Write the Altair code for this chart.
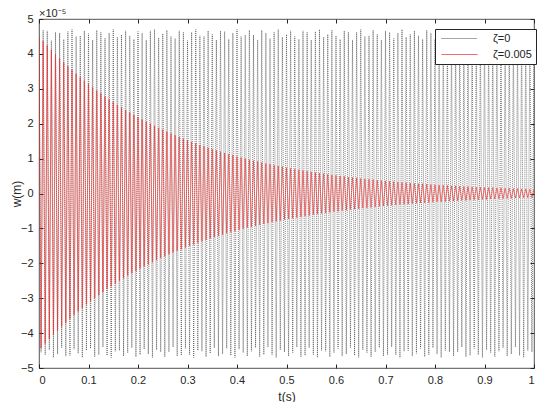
import altair as alt
import pandas as pd

series_names = ["ζ=0", "ζ=0.005"]
cycles_per_second = 120

# positive peaks (t = k/120) and negative peak magnitudes (t = (k+0.5)/120), units of 1e-5 m
undamped_pos = [
    4.45, 4.68, 4.66, 4.38, 4.62, 4.60, 4.42, 4.64, 4.70, 4.50, 4.52, 4.66, 4.58, 4.40, 4.68, 4.62, 4.45, 4.60, 4.70, 4.48,
    4.55, 4.66, 4.52, 4.42, 4.64, 4.60, 4.40, 4.66, 4.70, 4.46, 4.58, 4.68, 4.50, 4.44, 4.66, 4.62, 4.38, 4.62, 4.70, 4.52,
    4.50, 4.66, 4.56, 4.40, 4.66, 4.64, 4.42, 4.60, 4.70, 4.50, 4.54, 4.68, 4.54, 4.40, 4.68, 4.60, 4.44, 4.62, 4.70, 4.48,
    4.56, 4.66, 4.50, 4.42, 4.66, 4.62, 4.40, 4.64, 4.70, 4.48, 4.56, 4.68, 4.52, 4.42, 4.66, 4.62, 4.40, 4.62, 4.70, 4.50,
    4.52, 4.68, 4.56, 4.40, 4.66, 4.62, 4.44, 4.60, 4.70, 4.48, 4.56, 4.66, 4.52, 4.42, 4.68, 4.60, 4.42, 4.64, 4.70, 4.50,
    4.54, 4.66, 4.54, 4.40, 4.68, 4.62, 4.42, 4.62, 4.70, 4.46, 4.58, 4.66, 4.50, 4.44, 4.66, 4.60, 4.40, 4.64, 4.70, 4.52, 4.50,
]
undamped_neg = [
    4.55, 4.62, 4.48, 4.70, 4.60, 4.42, 4.66, 4.64, 4.46, 4.58, 4.70, 4.50, 4.44, 4.68, 4.62, 4.40, 4.64, 4.70, 4.52, 4.50,
    4.66, 4.56, 4.42, 4.68, 4.62, 4.46, 4.60, 4.70, 4.48, 4.54, 4.68, 4.54, 4.40, 4.66, 4.64, 4.44, 4.62, 4.70, 4.50, 4.52,
    4.68, 4.58, 4.42, 4.66, 4.60, 4.44, 4.64, 4.70, 4.46, 4.56, 4.66, 4.52, 4.42, 4.68, 4.62, 4.40, 4.62, 4.70, 4.48, 4.54,
    4.66, 4.56, 4.40, 4.68, 4.64, 4.42, 4.62, 4.70, 4.50, 4.52, 4.68, 4.56, 4.44, 4.66, 4.60, 4.42, 4.64, 4.70, 4.48, 4.56,
    4.68, 4.54, 4.42, 4.66, 4.62, 4.40, 4.62, 4.70, 4.52, 4.50, 4.66, 4.58, 4.44, 4.68, 4.62, 4.42, 4.60, 4.70, 4.50, 4.54,
    4.66, 4.54, 4.40, 4.68, 4.64, 4.44, 4.62, 4.70, 4.48, 4.56, 4.68, 4.52, 4.42, 4.66, 4.60, 4.40, 4.64, 4.70, 4.50, 4.54,
]
damped_pos = [
    4.50, 4.37, 4.24, 4.11, 3.99, 3.87, 3.76, 3.65, 3.54, 3.43,
    3.33, 3.23, 3.14, 3.04, 2.95, 2.87, 2.78, 2.70, 2.62, 2.54,
    2.47, 2.39, 2.32, 2.25, 2.19, 2.12, 2.06, 2.00, 1.94, 1.88,
    1.83, 1.77, 1.72, 1.67, 1.62, 1.57, 1.53, 1.48, 1.44, 1.39,
    1.35, 1.31, 1.27, 1.24, 1.20, 1.16, 1.13, 1.10, 1.06, 1.03,
    1.00, 0.97, 0.94, 0.92, 0.89, 0.86, 0.84, 0.81, 0.79, 0.77,
    0.74, 0.72, 0.70, 0.68, 0.66, 0.64, 0.62, 0.60, 0.58, 0.57,
    0.55, 0.53, 0.52, 0.50, 0.49, 0.47, 0.46, 0.45, 0.43, 0.42,
    0.41, 0.40, 0.38, 0.37, 0.36, 0.35, 0.34, 0.33, 0.32, 0.31,
    0.30, 0.29, 0.28, 0.28, 0.27, 0.26, 0.25, 0.24, 0.24, 0.23,
    0.22, 0.22, 0.21, 0.20, 0.20, 0.19, 0.18, 0.18, 0.17, 0.17,
    0.17, 0.16, 0.16, 0.15, 0.15, 0.14, 0.14, 0.13, 0.13, 0.12, 0.12,
]
damped_neg = [
    4.43, 4.30, 4.17, 4.05, 3.93, 3.81, 3.70, 3.59, 3.48, 3.38,
    3.28, 3.18, 3.09, 2.99, 2.91, 2.82, 2.74, 2.66, 2.58, 2.50,
    2.43, 2.35, 2.28, 2.22, 2.15, 2.09, 2.03, 1.97, 1.91, 1.85,
    1.80, 1.74, 1.69, 1.64, 1.60, 1.55, 1.50, 1.46, 1.41, 1.37,
    1.33, 1.29, 1.25, 1.22, 1.18, 1.14, 1.11, 1.08, 1.04, 1.01,
    0.98, 0.95, 0.93, 0.90, 0.87, 0.85, 0.82, 0.80, 0.78, 0.75,
    0.73, 0.71, 0.69, 0.67, 0.65, 0.63, 0.61, 0.59, 0.57, 0.56,
    0.54, 0.52, 0.51, 0.49, 0.48, 0.46, 0.45, 0.44, 0.42, 0.41,
    0.40, 0.39, 0.37, 0.36, 0.35, 0.34, 0.33, 0.32, 0.31, 0.30,
    0.29, 0.28, 0.27, 0.27, 0.26, 0.25, 0.24, 0.24, 0.23, 0.22,
    0.22, 0.21, 0.20, 0.20, 0.19, 0.18, 0.18, 0.17, 0.17, 0.16,
    0.16, 0.15, 0.15, 0.14, 0.14, 0.13, 0.13, 0.12, 0.12, 0.12,
]

x_ticks = [0, 0.1, 0.2, 0.3, 0.4, 0.5, 0.6, 0.7, 0.8, 0.9, 1]
y_ticks = [-5, -4, -3, -2, -1, 0, 1, 2, 3, 4, 5]


def build_rows(pos, neg, name):
    rows = []
    for k in range(len(pos)):
        rows.append({"t": k / cycles_per_second, "w": pos[k], "series": name})
        if k < len(neg):
            rows.append({"t": (k + 0.5) / cycles_per_second, "w": -neg[k], "series": name})
    return rows


df = pd.DataFrame(
    build_rows(undamped_pos, undamped_neg, series_names[0])
    + build_rows(damped_pos, damped_neg, series_names[1])
)

FONT = "Liberation Sans"
AX = "#262626"

legend = alt.Legend(
    title=None, orient="none", legendX=396, legendY=10,
    strokeColor=AX, fillColor="white",
    padding=4, symbolType="M-3.6,0H3.6", symbolSize=100, symbolStrokeWidth=0.9,
    symbolOffset=15, labelOffset=28,
    labelFont=FONT, labelFontSize=11, labelColor="#222", rowPadding=4,
)

color = alt.Color("series:N", scale=alt.Scale(domain=series_names, range=["#3a3a3a", "#ee2a2a"]), legend=legend)
dash = alt.StrokeDash("series:N", scale=alt.Scale(domain=series_names, range=[[1, 1], [1, 0]]), legend=legend)

common_axis = dict(grid=False, domain=False, tickColor=AX, tickSize=4, offset=-4,
                   labelFont=FONT, labelFontSize=11, labelColor=AX,
                   titleFont=FONT, titleFontSize=12, titleColor=AX, titleFontWeight="normal")

xs = alt.Scale(domain=[0, 1], nice=False)
ys = alt.Scale(domain=[-5, 5], nice=False)

lines = alt.Chart(df).mark_line(strokeWidth=0.65, clip=True).encode(
    x=alt.X("t:Q", scale=xs, axis=alt.Axis(values=x_ticks, format="~g", title="t(s)", labelPadding=6, titlePadding=6, **common_axis)),
    y=alt.Y("w:Q", scale=ys, axis=alt.Axis(values=y_ticks, format="d", title="w(m)", labelPadding=6, titlePadding=-3, **common_axis)),
    color=color,
    strokeDash=dash,
    order="t:Q",
)

frame_axes = alt.Chart(df).mark_point(opacity=0).encode(
    x=alt.X("t:Q", scale=xs, axis=alt.Axis(values=x_ticks, orient="top", labels=False, title=None, **common_axis)),
    y=alt.Y("w:Q", scale=ys, axis=alt.Axis(values=y_ticks, orient="right", labels=False, title=None, **common_axis)),
)

chart = alt.layer(lines, frame_axes).resolve_axis(x="independent", y="independent").properties(
    width=532, height=394,
    autosize=alt.AutoSizeParams(type="fit", contains="padding"),
    padding={"left": 2, "top": 0, "right": 3, "bottom": 0},
    title=alt.TitleParams("×10⁻⁵", anchor="start", frame="group", font=FONT, fontSize=11,
                          fontWeight="normal", color=AX, offset=-6),
).configure_view(stroke=AX, strokeWidth=0.8)

chart.save("out.html", embed_options={"renderer": "svg", "actions": False})
